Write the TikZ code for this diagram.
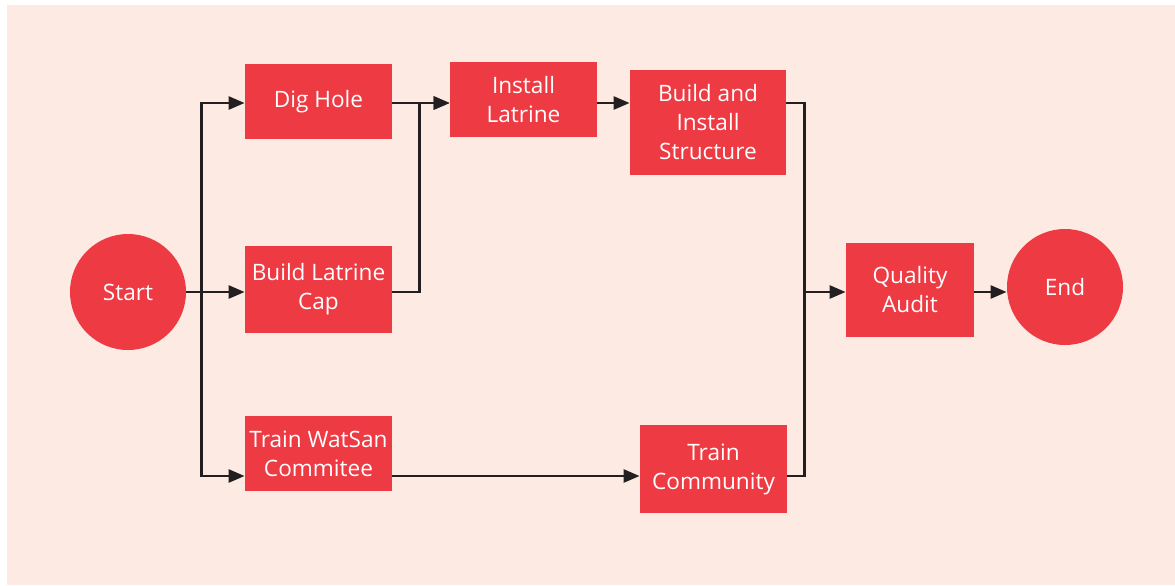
\documentclass[tikz,border=0pt]{standalone}
\usepackage{fontspec}
\setsansfont{Open Sans}
\usetikzlibrary{arrows.meta,positioning}
\definecolor{cBox}{HTML}{EE3A43}
\definecolor{cBack}{HTML}{FDEAE3}
\definecolor{cLine}{HTML}{231F20}

\begin{document}
\begin{tikzpicture}[x=0.5pt,y=-0.5pt,>={Triangle[length=8pt,width=6.5pt]},
   task/.style={fill=cBox,text=white,align=center,inner sep=0pt,
     font=\sffamily\fontsize{11.3}{14.5}\selectfont},
   term/.style={task,circle,minimum size=58pt},
   flow/.style={->,cLine,line width=1.3pt},
   link/.style={cLine,line width=1.3pt}]
  \useasboundingbox (0,0) rectangle (1175,585);
  \fill[cBack] (7,5) rectangle (1175,585);
  % rows of the connectors
  \coordinate (top) at (0,103);
  \coordinate (mid) at (0,292);
  \coordinate (low) at (0,476);
  % nodes
  \node[term] (start) at (128,292) {Start};
  \node[task,minimum width=73.5pt,minimum height=37.5pt] (dig) at (318.5,101.5) {Dig Hole};
  \node[task,minimum width=73.5pt,minimum height=43.5pt] (cap) at (318.5,289.5) {Build Latrine\\Cap};
  \node[task,minimum width=73.5pt,minimum height=37.5pt] (watsan) at (318.5,453.5) {Train WatSan\\Commitee};
  \node[task,minimum width=73.5pt,minimum height=37.5pt] (install) at (523.5,99.5) {Install\\Latrine};
  \node[task,minimum width=78pt,minimum height=52.5pt] (build) at (708,122.5) {Build and\\Install\\Structure};
  \node[task,minimum width=73.5pt,minimum height=44pt] (comm) at (713.5,469) {Train\\Community};
  \node[task,minimum width=64pt,minimum height=47pt] (audit) at (910,290) {Quality\\Audit};
  \node[term] (end) at (1065,287) {End};
  % connectors
  \draw[flow] (start.east) -- ++(15,0) coordinate (fork) |- (dig.west |- top);
  \draw[flow] (fork) -- (cap.west |- mid);
  \draw[flow] (fork) |- (watsan.west |- low);
  \draw[flow] (dig.east |- top) -- (install.west |- top);
  \draw[flow] (cap.east |- mid) -- ++(27,0) |- (install.west |- top);
  \draw[flow] (install.east |- top) -- (build.west |- top);
  \draw[flow] (build.east |- top) -- ++(18,0) coordinate (join) |- (audit.west |- mid);
  \draw[flow] (watsan.east |- low) -- (comm.west |- low);
  \draw[link] (comm.east |- low) -| (join |- mid);
  \draw[flow] (audit.east |- mid) -- (end.west |- mid);
\end{tikzpicture}
\end{document}
